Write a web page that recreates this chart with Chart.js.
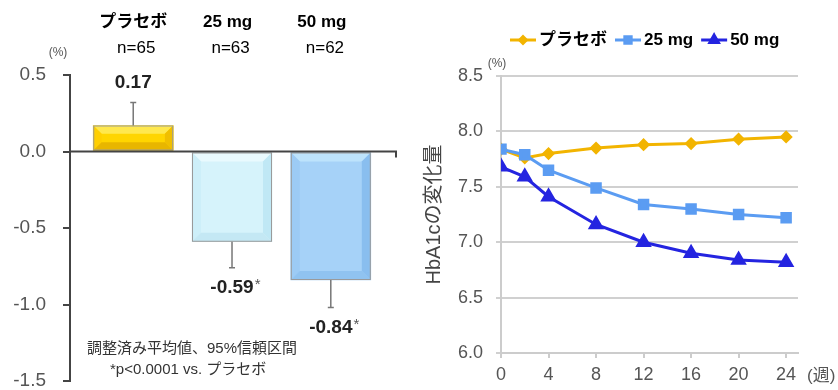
<!DOCTYPE html>
<html>
<head>
<meta charset="utf-8">
<script src="https://cdn.jsdelivr.net/npm/chart.js@4.4.1/dist/chart.umd.min.js"></script>
<style>
  html, body { margin: 0; padding: 0; background: #fff; }
  #wrap { position: relative; width: 838px; height: 390px; }
  #left { position: absolute; left: 0; top: 0; }
  #right { position: absolute; left: 420px; top: 0; }
</style>
</head>
<body>
<div id="wrap">
  <canvas id="left" width="420" height="390"></canvas>
  <canvas id="right" width="418" height="390"></canvas>
</div>
<script>
// 左: 24週時点の変化量（調整済み平均値）
const groups = ['プラセボ', '25 mg', '50 mg'];
const nLabels = ['n=65', 'n=63', 'n=62'];
const means = [0.17, -0.59, -0.84];
const ciEnds = [0.32, -0.76, -1.02];
const starred = [false, true, true];

// 右: HbA1c の推移
const weeks = [0, 2, 4, 8, 12, 16, 20, 24];
const weekTicks = [0, 4, 8, 12, 16, 20, 24];
const placebo = [7.84, 7.76, 7.80, 7.85, 7.88, 7.89, 7.93, 7.95];
const mg25 = [7.84, 7.79, 7.65, 7.49, 7.34, 7.30, 7.25, 7.22];
const mg50 = [7.68, 7.59, 7.41, 7.16, 7.00, 6.90, 6.84, 6.82];

const FONT = "'Liberation Sans', 'Noto Sans CJK JP', sans-serif";
Chart.defaults.font.family = FONT;

// バーの配色: 面, 上, 左, 右, 下 の斜面
const barMain = ['#FFD500', '#D6F3FB', '#A6D2F8'];
const barBevel = [
  ['#FFE84E', '#FFCF00', '#F0BF00', '#E8B600'],
  ['#E9FAFE', '#CDEFF9', '#C0E8F5', '#C4E8F4'],
  ['#BDE3FC', '#9CCBF5', '#89BEEF', '#90C3F0']
];
const barLine = '#9A9A9A';

// 端のラベル分の余白を使わない
function noEndPadding(scale) {
  scale.paddingTop = 0;
  scale.paddingBottom = 0;
}

function poly(ctx, pts, color) {
  ctx.fillStyle = color;
  ctx.beginPath();
  ctx.moveTo(pts[0][0], pts[0][1]);
  for (let k = 1; k < pts.length; k++) ctx.lineTo(pts[k][0], pts[k][1]);
  ctx.closePath();
  ctx.fill();
}

const leftDecor = {
  id: 'leftDecor',
  afterDatasetsDraw(chart) {
    const ctx = chart.ctx;
    const xs = chart.scales.x, ys = chart.scales.y;
    const area = chart.chartArea;
    ctx.save();

    // バーの面取り
    chart.getDatasetMeta(0).data.forEach((bar, i) => {
      const l = bar.x - bar.width / 2, r = bar.x + bar.width / 2;
      const t = Math.min(bar.y, bar.base), b = Math.max(bar.y, bar.base);
      const d = Math.min(9, (b - t) / 3);
      const c = barBevel[i];
      poly(ctx, [[l, t], [r, t], [r - d, t + d], [l + d, t + d]], c[0]);
      poly(ctx, [[l, t], [l + d, t + d], [l + d, b - d], [l, b]], c[1]);
      poly(ctx, [[r, t], [r - d, t + d], [r - d, b - d], [r, b]], c[2]);
      poly(ctx, [[l, b], [l + d, b - d], [r - d, b - d], [r, b]], c[3]);
      ctx.strokeStyle = barLine;
      ctx.lineWidth = 1;
      ctx.strokeRect(l + 0.5, t + 0.5, r - l - 1, b - t - 1);
    });

    // ゼロ線
    const y0 = ys.getPixelForValue(0);
    ctx.strokeStyle = '#444';
    ctx.lineWidth = 2;
    ctx.beginPath();
    ctx.moveTo(area.left, y0);
    ctx.lineTo(area.right, y0);
    ctx.lineTo(area.right, y0 + 6);
    ctx.stroke();

    // エラーバー（片側）
    ctx.strokeStyle = '#777';
    ctx.lineWidth = 1.5;
    means.forEach((m, i) => {
      const x = xs.getPixelForValue(i);
      const ya = ys.getPixelForValue(m);
      const yb = ys.getPixelForValue(ciEnds[i]);
      ctx.beginPath();
      ctx.moveTo(x, ya);
      ctx.lineTo(x, yb);
      ctx.moveTo(x - 3, yb);
      ctx.lineTo(x + 3, yb);
      ctx.stroke();
    });

    // 群名と例数
    ctx.textAlign = 'center';
    ctx.textBaseline = 'middle';
    ctx.fillStyle = '#000';
    groups.forEach((g, i) => {
      const x = xs.getPixelForValue(i * 0.955);
      ctx.font = 'bold 17px ' + FONT;
      ctx.fillText(g, x, 22);
      ctx.font = '17px ' + FONT;
      ctx.fillText(nLabels[i], x + 3, 48);
    });

    // 数値ラベル
    means.forEach((m, i) => {
      const x = xs.getPixelForValue(i);
      const yb = ys.getPixelForValue(ciEnds[i]);
      const y = m >= 0 ? yb - 20 : yb + 20;
      const txt = m.toFixed(2);
      ctx.font = 'bold 19px ' + FONT;
      const w = ctx.measureText(txt).width;
      ctx.fillStyle = '#222';
      if (starred[i]) {
        ctx.textAlign = 'left';
        ctx.fillText(txt, x - w / 2, y);
        ctx.font = '15px ' + FONT;
        ctx.fillStyle = '#555';
        ctx.fillText('*', x + w / 2 + 1, y - 3);
      } else {
        ctx.textAlign = 'center';
        ctx.fillText(txt, x, y);
      }
    });

    // 単位
    ctx.textAlign = 'center';
    ctx.fillStyle = '#555';
    ctx.font = '12px ' + FONT;
    ctx.fillText('(%)', 58, 53);

    // 注記
    ctx.fillStyle = '#333';
    ctx.font = '15px ' + FONT;
    ctx.textAlign = 'left';
    ctx.fillText('調整済み平均値、95%信頼区間', 87, 349);
    ctx.fillText('*p<0.0001 vs. プラセボ', 110, 370);
    ctx.restore();
  }
};

new Chart(document.getElementById('left'), {
  type: 'bar',
  data: {
    datasets: [{
      data: means.map((m, i) => ({ x: i, y: m })),
      backgroundColor: barMain,
      borderWidth: 0,
      barThickness: 80
    }]
  },
  options: {
    responsive: false,
    animation: false,
    layout: { padding: { top: 75, bottom: 9, right: 24 } },
    plugins: { legend: { display: false }, tooltip: { enabled: false } },
    scales: {
      x: { type: 'linear', min: -0.64, max: 2.66, offset: false, display: false },
      y: {
        min: -1.5,
        max: 0.5,
        ticks: {
          stepSize: 0.5,
          color: '#555',
          font: { size: 19 },
          padding: 17,
          callback: v => v.toFixed(1)
        },
        grid: { drawOnChartArea: false, tickLength: 7, color: '#444', lineWidth: 2 },
        border: { color: '#444', width: 2 },
        afterFit(scale) { scale.width = 70; noEndPadding(scale); }
      }
    }
  },
  plugins: [leftDecor]
});

const lineColors = ['#F2B400', '#5B9CF2', '#2424E0'];
const lineStyles = ['rectRot', 'rect', 'triangle'];
const lineRadii = [4.5, 6, 6.5];
const lineNames = ['プラセボ', '25 mg', '50 mg'];

const rightDecor = {
  id: 'rightDecor',
  afterDraw(chart) {
    const ctx = chart.ctx;
    ctx.save();
    // 凡例
    let x = 90;
    const y = 40;
    lineNames.forEach((name, i) => {
      ctx.strokeStyle = lineColors[i];
      ctx.lineWidth = 3;
      ctx.beginPath();
      ctx.moveTo(x, y);
      ctx.lineTo(x + 26, y);
      ctx.stroke();
      Chart.helpers.drawPoint(ctx, {
        pointStyle: lineStyles[i],
        radius: lineRadii[i] * 0.75,
        borderWidth: 1
      }, x + 13, y);
      ctx.fillStyle = lineColors[i];
      ctx.fill();
      ctx.font = 'bold 17px ' + FONT;
      ctx.fillStyle = '#000';
      ctx.textAlign = 'left';
      ctx.textBaseline = 'middle';
      ctx.fillText(name, x + 29, y);
      x += 29 + ctx.measureText(name).width + 8;
    });

    ctx.fillStyle = '#555';
    ctx.font = '12px ' + FONT;
    ctx.textAlign = 'center';
    ctx.fillText('(%)', 77, 64);
    ctx.font = '17px ' + FONT;
    ctx.textAlign = 'left';
    ctx.fillText('(週)', 387, 376);
    ctx.restore();
  }
};

function series(vals, i, order) {
  return {
    label: lineNames[i],
    data: weeks.map((w, k) => ({ x: w, y: vals[k] })),
    borderColor: lineColors[i],
    backgroundColor: lineColors[i],
    pointBackgroundColor: lineColors[i],
    pointBorderColor: lineColors[i],
    pointStyle: lineStyles[i],
    pointRadius: lineRadii[i],
    borderWidth: 3,
    tension: 0,
    order: order
  };
}

new Chart(document.getElementById('right'), {
  type: 'line',
  data: {
    datasets: [
      series(placebo, 0, 2),
      series(mg25, 1, 0),
      series(mg50, 2, 1)
    ]
  },
  options: {
    responsive: false,
    animation: false,
    layout: { padding: { top: 76, right: 40 } },
    plugins: { legend: { display: false }, tooltip: { enabled: false } },
    scales: {
      x: {
        type: 'linear',
        min: 0,
        max: 25,
        afterBuildTicks(scale) { scale.ticks = weekTicks.map(v => ({ value: v })); },
        ticks: { color: '#555', font: { size: 18 }, padding: 6, maxRotation: 0 },
        grid: { drawOnChartArea: false, tickLength: 5, color: '#ccc', lineWidth: 2 },
        border: { color: '#ccc', width: 2 },
        afterFit(scale) { scale.height = 37; }
      },
      y: {
        min: 6,
        max: 8.5,
        ticks: {
          stepSize: 0.5,
          color: '#555',
          font: { size: 18 },
          padding: 13,
          callback: v => v.toFixed(1)
        },
        grid: { color: '#d0d0d0', lineWidth: 2, tickLength: 5 },
        border: { color: '#ccc', width: 2 },
        title: {
          display: true,
          text: 'HbA1cの変化量',
          color: '#444',
          font: { size: 20 },
          padding: { top: 2, bottom: 0 }
        },
        afterFit(scale) { scale.width = 81; noEndPadding(scale); }
      }
    }
  },
  plugins: [rightDecor]
});
</script>
</body>
</html>
